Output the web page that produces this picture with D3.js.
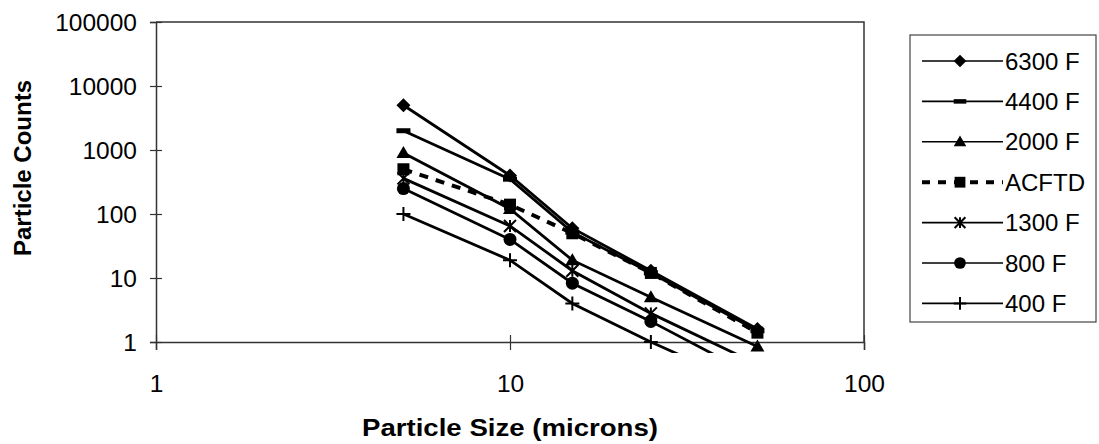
<!DOCTYPE html>
<html>
<head>
<meta charset="utf-8">
<script src="https://cdn.jsdelivr.net/npm/d3@7"></script>
<style>
  html, body { margin: 0; padding: 0; background: #fff; }
  svg { display: block; }
  text { font-family: "Liberation Sans", Arial, sans-serif; fill: #000; }
</style>
</head>
<body>
<svg id="chart" width="1099" height="444"></svg>
<script>
// Particle size channels (microns)
const sizes = [5, 10, 15, 25, 50];

// Particle counts per size channel
const counts6300 = [5000, 400, 60, 13, 1.6];
const counts4400 = [2000, 350, 52, 12, 1.5];
const counts2000 = [900, 120, 19, 5, 0.85];
const countsACFTD = [500, 140, 50, 12, 1.4];
const counts1300 = [360, 65, 13, 2.8, 0.45];
const counts800 = [250, 40, 8.3, 2.1, 0.28];
const counts400 = [100, 19, 4, 1, 0.18];

const seriesNames = ["6300 F", "4400 F", "2000 F", "ACFTD", "1300 F", "800 F", "400 F"];
const seriesMarkers = ["diamond", "dash", "triangle", "square", "star", "circle", "plus"];
const seriesValues = [counts6300, counts4400, counts2000, countsACFTD, counts1300, counts800, counts400];

const xTickValues = [1, 10, 100];
const yTickValues = [1, 10, 100, 1000, 10000, 100000];

const svg = d3.select("#chart");
const plot = { left: 156, right: 864, top: 22, bottom: 342 };

const x = d3.scaleLog().domain([1, 100]).range([plot.left, plot.right]);
const y = d3.scaleLog().domain([1, 100000]).range([plot.bottom, plot.top]);

// Plot frame: top and right borders
svg.append("path")
  .attr("d", `M${plot.left},${plot.top}H${plot.right}V${plot.bottom}`)
  .attr("fill", "none").attr("stroke", "#333").attr("stroke-width", 1.5);

// Y axis with ticks crossing the line
const yAxis = d3.axisLeft(y).tickValues(yTickValues).tickFormat(d3.format("d"))
  .tickSize(6).tickPadding(14);
const gy = svg.append("g").attr("transform", `translate(${plot.left},0)`).call(yAxis);
gy.select(".domain").attr("stroke", "#333").attr("stroke-width", 1.5);
gy.selectAll(".tick line").attr("x2", -6).attr("x1", 6).attr("stroke", "#333").attr("stroke-width", 1.2);
gy.selectAll(".tick text").style("font-size", "24.5px").attr("x", -19).attr("dy", "0.36em");

// X axis with ticks crossing the line
const xAxis = d3.axisBottom(x).tickValues(xTickValues).tickFormat(d3.format("d"))
  .tickSize(8).tickPadding(22);
const gx = svg.append("g").attr("transform", `translate(0,${plot.bottom})`).call(xAxis);
gx.select(".domain").attr("stroke", "#333").attr("stroke-width", 1.5);
gx.selectAll(".tick line").attr("y1", -7).attr("y2", 8).attr("stroke", "#333").attr("stroke-width", 1.2);
gx.selectAll(".tick text").style("font-size", "24.5px").attr("y", 33);

// Axis titles
svg.append("text")
  .attr("transform", "translate(510,436) scale(1.15,1)")
  .attr("text-anchor", "middle")
  .style("font-size", "24px").style("font-weight", "bold")
  .text("Particle Size (microns)");

svg.append("text")
  .attr("transform", "translate(31,168) rotate(-90)")
  .attr("text-anchor", "middle")
  .style("font-size", "24px").style("font-weight", "bold")
  .text("Particle Counts");

// Clip so lines stop just below the bottom axis
svg.append("clipPath").attr("id", "plotClip")
  .append("rect")
  .attr("x", plot.left).attr("y", plot.top)
  .attr("width", plot.right - plot.left).attr("height", plot.bottom - plot.top + 11);

const line = d3.line().x(d => x(d[0])).y(d => y(d[1]));

function drawMarker(g, type, cx, cy, s) {
  s = s || 1;
  switch (type) {
    case "diamond":
      g.append("path").attr("d", `M${cx},${cy - 7 * s}L${cx + 7 * s},${cy}L${cx},${cy + 7 * s}L${cx - 7 * s},${cy}Z`).attr("fill", "#000");
      break;
    case "dash":
      g.append("rect").attr("x", cx - 7 * s).attr("y", cy - 2.5 * s).attr("width", 14 * s).attr("height", 5 * s).attr("fill", "#000");
      break;
    case "triangle":
      g.append("path").attr("d", `M${cx},${cy - 7 * s}L${cx + 7 * s},${cy + 5 * s}L${cx - 7 * s},${cy + 5 * s}Z`).attr("fill", "#000");
      break;
    case "square":
      g.append("rect").attr("x", cx - 6 * s).attr("y", cy - 6 * s).attr("width", 12 * s).attr("height", 12 * s).attr("fill", "#000");
      break;
    case "star":
      g.append("path").attr("d", `M${cx - 6 * s},${cy - 6 * s}L${cx + 6 * s},${cy + 6 * s}M${cx + 6 * s},${cy - 6 * s}L${cx - 6 * s},${cy + 6 * s}M${cx},${cy - 6 * s}V${cy + 6 * s}`)
        .attr("stroke", "#000").attr("stroke-width", 2).attr("fill", "none");
      break;
    case "circle":
      g.append("circle").attr("cx", cx).attr("cy", cy).attr("r", 6.5 * s).attr("fill", "#000");
      break;
    case "plus":
      g.append("path").attr("d", `M${cx - 7 * s},${cy}H${cx + 7 * s}M${cx},${cy - 7 * s}V${cy + 7 * s}`)
        .attr("stroke", "#000").attr("stroke-width", 2).attr("fill", "none");
      break;
  }
}

const plotG = svg.append("g").attr("clip-path", "url(#plotClip)");

seriesValues.forEach((vals, i) => {
  const pts = sizes.map((s, j) => [s, vals[j]]);
  const isDashed = seriesNames[i] === "ACFTD";
  plotG.append("path")
    .datum(pts)
    .attr("d", line)
    .attr("fill", "none")
    .attr("stroke", "#000")
    .attr("stroke-width", isDashed ? 4 : 2.8)
    .attr("stroke-dasharray", isDashed ? "9,8" : null);
  pts.forEach(p => drawMarker(plotG, seriesMarkers[i], x(p[0]), y(p[1])));
});

// Legend
const legend = svg.append("g");
legend.append("rect")
  .attr("x", 910).attr("y", 35).attr("width", 186).attr("height", 287)
  .attr("fill", "#fff").attr("stroke", "#444").attr("stroke-width", 1.2);

seriesNames.forEach((name, i) => {
  const ly = 61 + i * 40.4;
  const isDashed = name === "ACFTD";
  legend.append("line")
    .attr("x1", 922).attr("x2", 1003).attr("y1", ly).attr("y2", ly)
    .attr("stroke", "#000")
    .attr("stroke-width", isDashed ? 4 : 1.6)
    .attr("stroke-dasharray", isDashed ? "8,8" : null);
  drawMarker(legend, seriesMarkers[i], 960, ly, 0.9);
  legend.append("text")
    .attr("x", 1005).attr("y", ly).attr("dy", "0.36em")
    .style("font-size", "24px")
    .text(name);
});
</script>
</body>
</html>
